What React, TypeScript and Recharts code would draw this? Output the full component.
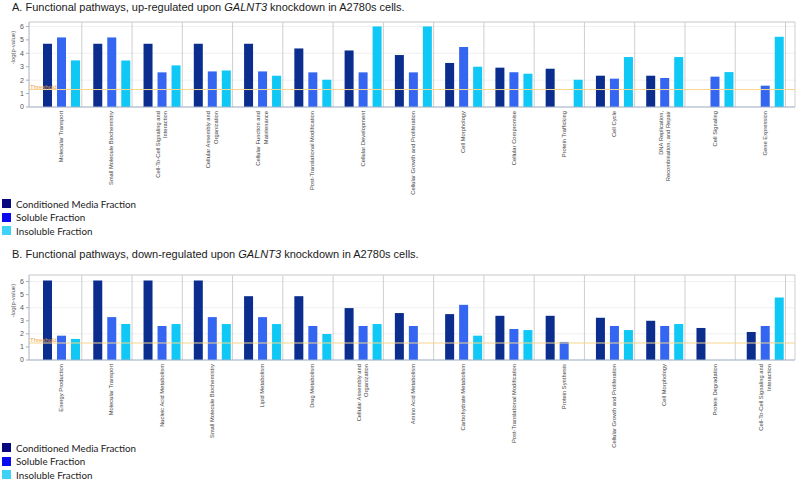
import React from 'react';
import { BarChart, Bar, XAxis, YAxis, CartesianGrid, ReferenceLine } from 'recharts';

// Panel A: up-regulated pathways
const upCategories = [
  'Molecular Transport',
  'Small Molecule Biochemistry',
  'Cell-To-Cell Signaling and\nInteraction',
  'Cellular Assembly and\nOrganization',
  'Cellular Function and\nMaintenance',
  'Post-Translational Modification',
  'Cellular Development',
  'Cellular Growth and Proliferation',
  'Cell Morphology',
  'Cellular Compromise',
  'Protein Trafficking',
  'Cell Cycle',
  'DNA Replication,\nRecombination, and Repair',
  'Cell Signaling',
  'Gene Expression',
];
const upConditioned = [4.71, 4.71, 4.71, 4.71, 4.71, 4.36, 4.21, 3.87, 3.28, 2.93, 2.85, 2.33, 2.33, null, null];
const upSoluble = [5.18, 5.18, 2.58, 2.65, 2.65, 2.58, 2.58, 2.58, 4.47, 2.58, null, 2.11, 2.16, 2.26, 1.59];
const upInsoluble = [3.47, 3.47, 3.1, 2.72, 2.33, 2.03, 6.0, 6.0, 3.0, 2.48, 2.03, 3.72, 3.72, 2.6, 5.23];

// Panel B: down-regulated pathways
const downCategories = [
  'Energy Production',
  'Molecular Transport',
  'Nucleic Acid Metabolism',
  'Small Molecule Biochemistry',
  'Lipid Metabolism',
  'Drug Metabolism',
  'Cellular Assembly and\nOrganization',
  'Amino Acid Metabolism',
  'Carbohydrate Metabolism',
  'Post-Translational Modification',
  'Protein Synthesis',
  'Cellular Growth and Proliferation',
  'Cell Morphology',
  'Protein Degradation',
  'Cell-To-Cell Signaling and\nInteraction',
];
const downConditioned = [6.08, 6.08, 6.08, 6.08, 4.88, 4.88, 3.97, 3.59, 3.51, 3.38, 3.38, 3.23, 3.0, 2.45, 2.14];
const downSoluble = [1.86, 3.28, 2.6, 3.28, 3.28, 2.6, 2.6, 2.6, 4.22, 2.37, 1.38, 2.6, 2.6, null, 2.6];
const downInsoluble = [1.61, 2.75, 2.75, 2.75, 2.75, 1.99, 2.75, null, 1.86, 2.29, null, 2.29, 2.75, null, 4.78];

const yTicks = [0, 1, 2, 3, 4, 5, 6];
const threshold = 1.3;

const seriesNames = ['Conditioned Media Fraction', 'Soluble Fraction', 'Insoluble Fraction'];
const barColors = ['#0a2d8e', '#3466f2', '#0fc8f6'];
const legendColors = ['#07077f', '#0a0af0', '#3fd2f7'];

const PAD_L = 7;
const PAD_R = 5;

const PathwayTick = (props: any) => {
  const { x, y, payload } = props;
  const lines = String(payload.value).split('\n');
  return (
    <g>
      {lines.map((ln, i) => (
        <text
          key={i}
          transform={`translate(${x + (i - (lines.length - 1) / 2) * 7.5}, ${y}) rotate(-90)`}
          textAnchor="end"
          dominantBaseline="central"
          fontSize={5.8}
          fill="#444"
          fontFamily="'Liberation Sans', Arial, sans-serif"
        >
          {ln}
        </text>
      ))}
    </g>
  );
};

const Panel = ({ categories, a, b, c, yMax, top }: any) => {
  const data = categories.map((name: string, i: number) => ({ name, a: a[i], b: b[i], c: c[i] }));
  const n = categories.length;
  const sepLines = ({ offset }: any) => {
    const bw = (offset.width - PAD_L - PAD_R) / n;
    const xs = categories.map((_: string, i: number) => offset.left + PAD_L + bw * (i + 1) - 4.5);
    return [...xs, offset.left + offset.width];
  };
  return (
    <div style={{ position: 'absolute', left: 0, top, width: 800, height: 200 }}>
      <BarChart width={800} height={200} data={data} margin={{ top: 22, right: 5, left: 0, bottom: 0 }} barSize={9} barGap={5}>
        <CartesianGrid vertical={false} stroke="#f0f0f0" />
        <CartesianGrid
          stroke="#cfcfcf"
          verticalCoordinatesGenerator={sepLines}
          horizontalCoordinatesGenerator={({ offset }: any) => [offset.top]}
        />
        <XAxis
          dataKey="name"
          interval={0}
          padding={{ left: PAD_L, right: PAD_R }}
          tickLine={false}
          tickSize={0}
          tickMargin={4}
          height={93}
          stroke="#9fb0c8"
          tick={<PathwayTick />}
        />
        <YAxis
          domain={[0, yMax]}
          ticks={yTicks}
          width={29}
          tickSize={3}
          tickMargin={2}
          stroke="#a8b0bc"
          tick={{ fontSize: 7, fill: '#555', fontFamily: "'Liberation Sans', Arial" }}
          label={{ value: '-log(p-value)', angle: -90, position: 'insideLeft', offset: 13, fontSize: 6, fill: '#555', fontFamily: "'Liberation Sans', Arial" }}
        />
        <ReferenceLine
          y={threshold}
          stroke="#f7d58c"
          label={{ value: 'Threshold', position: 'insideBottomLeft', offset: 1, fontSize: 6, fill: '#f0a23c', fontFamily: "'Liberation Sans', Arial" }}
        />
        <Bar dataKey="a" name={seriesNames[0]} fill={barColors[0]} isAnimationActive={false} />
        <Bar dataKey="b" name={seriesNames[1]} fill={barColors[1]} isAnimationActive={false} />
        <Bar dataKey="c" name={seriesNames[2]} fill={barColors[2]} isAnimationActive={false} />
      </BarChart>
    </div>
  );
};

const Title = ({ label, top }: any) => (
  <div
    style={{
      position: 'absolute', left: 12, top, fontSize: 11, color: '#1a1a1a', whiteSpace: 'nowrap',
      fontFamily: "'Liberation Sans', Arial, sans-serif",
    }}
  >
    {label} Functional pathways, {label === 'A.' ? 'up' : 'down'}-regulated upon <i>GALNT3</i> knockdown in A2780s cells.
  </div>
);

const Legend = ({ top }: any) => (
  <div style={{ position: 'absolute', left: 2, top, fontFamily: "Lato, 'Open Sans', sans-serif", fontSize: 9.8, color: '#222' }}>
    {seriesNames.map((s, i) => (
      <div key={s} style={{ display: 'flex', alignItems: 'center', height: 13.6 }}>
        <span style={{ width: 9, height: 9, background: legendColors[i], marginRight: 5, display: 'inline-block' }} />
        {s}
      </div>
    ))}
  </div>
);

export default function App() {
  return (
    <div style={{ position: 'absolute', left: 0, top: 0, width: 800, height: 482, background: '#fff', overflow: 'hidden' }}>
      <Title label="A." top={1} />
      <Panel categories={upCategories} a={upConditioned} b={upSoluble} c={upInsoluble} yMax={6.33} top={0} />
      <Legend top={197} />
      <Title label="B." top={248} />
      <Panel categories={downCategories} a={downConditioned} b={downSoluble} c={downInsoluble} yMax={6.5} top={253} />
      <Legend top={441} />
    </div>
  );
}
